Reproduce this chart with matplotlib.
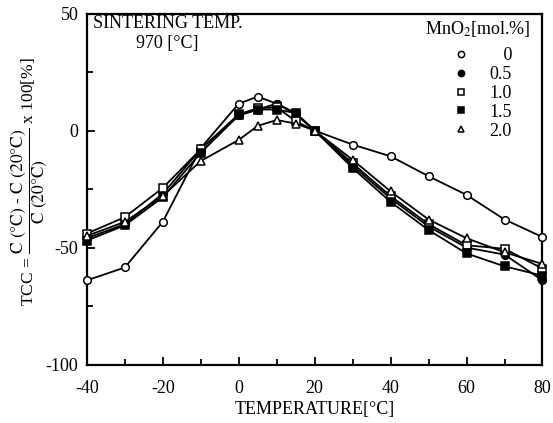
import matplotlib
matplotlib.use("Agg")
from matplotlib import pyplot as plt
from matplotlib.lines import Line2D
from matplotlib.ticker import MultipleLocator

# 온도 (x축)
temps = [-40, -30, -20, -10, 0, 5, 10, 15, 20, 30, 40, 50, 60, 70, 80]
# MnO2 첨가량별 TCC 값 [%]
tcc_0 = [-64, -58.5, -39, -7.5, 11.5, 14.5, 11.5, 7, 0, -6, -11, -19.5, -27.5, -38, -45.5]
tcc_05 = [-46, -40, -27, -8, 6.5, 9, 11.5, 7.5, 0, -15, -29, -41, -50, -53, -64]
tcc_10 = [-44, -37, -24.5, -8, 7, 9.5, 10, 4, 0, -14, -28, -40, -49, -50.5, -59]
tcc_15 = [-47, -40.5, -28.5, -9.5, 6.5, 9, 9, 7.5, 0, -16, -30.5, -42.5, -52.5, -58, -62]
tcc_20 = [-45, -39, -28, -13, -4, 2, 4.5, 3, 0, -12.5, -26, -38, -46, -52, -57]

mno2_labels = ["   0", "0.5", "1.0", "1.5", "2.0"]
series = [tcc_0, tcc_05, tcc_10, tcc_15, tcc_20]
markers = ["o", "o", "s", "s", "^"]
faces = ["white", "black", "white", "black", "white"]

plt.rcParams["font.family"] = ["Liberation Serif", "DejaVu Serif"]
plt.rcParams["mathtext.fontset"] = "stix"
plt.rcParams["axes.unicode_minus"] = False

fig = plt.figure(figsize=(5.53, 4.23), dpi=100)
ax = fig.add_axes([0.157, 0.138, 0.824, 0.830])

handles = []
for vals, m, fc, lab in zip(series, markers, faces, mno2_labels):
    ax.plot(temps, vals, color="black", lw=1.3, marker=m, ms=5.5,
            mfc=fc, mec="black", mew=1.1, clip_on=False, zorder=3)
    handles.append(Line2D([], [], ls="none", marker=m, ms=4.5, mfc=fc,
                          mec="black", mew=1.1, label=lab))

ax.set_xlim(-40, 80)
ax.set_ylim(-100, 50)
ax.xaxis.set_major_locator(MultipleLocator(20))
ax.xaxis.set_minor_locator(MultipleLocator(10))
ax.yaxis.set_major_locator(MultipleLocator(50))
ax.yaxis.set_minor_locator(MultipleLocator(25))
ax.tick_params(which="both", direction="in", top=False, right=False,
               width=1.3, labelsize=13)
ax.tick_params(axis="x", which="major", length=6, pad=11)
ax.tick_params(axis="y", which="major", length=6, pad=6)
ax.tick_params(which="minor", length=4)
for sp in ax.spines.values():
    sp.set_linewidth(1.6)

ax.set_xlabel("TEMPERATURE[°C]", fontsize=13, labelpad=3)
fig.text(0.052, 0.57,
         r"TCC = $\dfrac{\text{C (°C) - C (20°C)}}{\text{C (20°C)}}$ x 100[%]",
         rotation=90, ha="center", va="center", fontsize=12.5)

ax.text(0.177, 0.995, "SINTERING TEMP.\n970 [°C]", transform=ax.transAxes,
        ha="center", va="top", multialignment="center", fontsize=13,
        linespacing=1.2)

leg = ax.legend(handles=handles, title="MnO$_2$[mol.%]", loc="upper right",
                bbox_to_anchor=(0.985, 1.0),
                frameon=False, fontsize=13, title_fontsize=13,
                handletextpad=0.6, labelspacing=0.1, borderaxespad=0.1,
                borderpad=0.2)
leg._legend_box.align = "center"
leg._legend_box.sep = 6

fig.savefig("out.png", dpi=100)
